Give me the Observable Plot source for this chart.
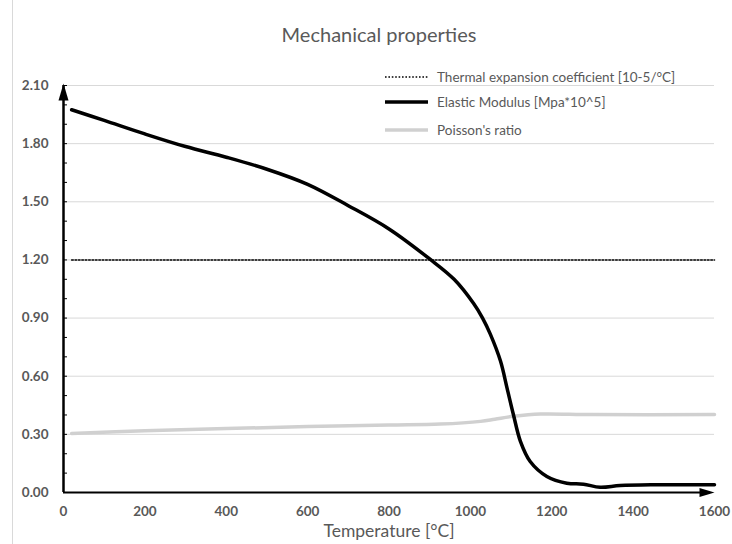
<!DOCTYPE html>
<html>
<head>
<meta charset="utf-8">
<script src="https://cdn.jsdelivr.net/npm/d3@7"></script>
<script src="https://cdn.jsdelivr.net/npm/@observablehq/plot@0.6"></script>
<style>
  html, body { margin: 0; padding: 0; background: #fff; }
  #wrap { position: relative; width: 732px; height: 544px; overflow: hidden; font-family: Lato, "Open Sans", sans-serif; }
  #border { position: absolute; left: 12px; top: 0; width: 1px; height: 544px; background: #d9d9d9; }
  #legend { position: absolute; left: 385px; top: 0; font-size: 13.5px; color: #595959; }
  .item { position: absolute; left: 0; white-space: nowrap; display: flex; align-items: center; }
  .item svg { margin-right: 9px; }
</style>
</head>
<body>
<div id="wrap">
  <div id="border"></div>
  <div id="chart"></div>
  <div id="legend"></div>
</div>
<script>
const title = "Mechanical properties";
const xLabel = "Temperature [°C]";
const seriesNames = ["Thermal expansion coefficient [10-5/°C]", "Elastic Modulus [Mpa*10^5]", "Poisson's ratio"];

const thermalT = [20, 1600];
const thermalV = [1.2, 1.2];

const elasticT = [20, 100, 200, 300, 400, 500, 600, 700, 800, 900, 960, 1008, 1030, 1049, 1074, 1090, 1106, 1123, 1147, 1188, 1237, 1278, 1319, 1368, 1450, 1600];
const elasticV = [1.975, 1.92, 1.85, 1.785, 1.73, 1.668, 1.59, 1.48, 1.36, 1.205, 1.10, 0.975, 0.90, 0.817, 0.678, 0.54, 0.40, 0.264, 0.16, 0.083, 0.048, 0.043, 0.027, 0.036, 0.04, 0.04];

const poissonT = [20, 200, 400, 600, 800, 926, 1025, 1060, 1106, 1172, 1300, 1600];
const poissonV = [0.305, 0.318, 0.33, 0.34, 0.348, 0.353, 0.367, 0.378, 0.393, 0.405, 0.402, 0.402];

const xTicks = [0, 200, 400, 600, 800, 1000, 1200, 1400, 1600];
const yTicks = [0, 0.3, 0.6, 0.9, 1.2, 1.5, 1.8, 2.1];
const yMinorTicks = [0, 0.1, 0.2, 0.3, 0.4, 0.5, 0.6, 0.7, 0.8, 0.9, 1.0, 1.1, 1.2, 1.3, 1.4, 1.5, 1.6, 1.7, 1.8, 1.9, 2.0, 2.1];

const colors = ["#000000", "#000000", "#d0d0d0"];

const thermal = thermalT.map((t, i) => ({t, v: thermalV[i]}));
const elastic = elasticT.map((t, i) => ({t, v: elasticV[i]}));
const poisson = poissonT.map((t, i) => ({t, v: poissonV[i]}));

// arrowhead symbols (tip pointing up)
const arrowUp = { draw(ctx) { ctx.moveTo(0, -2); ctx.lineTo(5, 15); ctx.lineTo(-5, 15); ctx.closePath(); } };
const arrowRight = { draw(ctx) { ctx.moveTo(0, -1); ctx.lineTo(4.5, 14); ctx.lineTo(-4.5, 14); ctx.closePath(); } };

const grey = "#595959";

const plot = Plot.plot({
  width: 732,
  height: 544,
  marginLeft: 63,
  marginRight: 18,
  marginTop: 85,
  marginBottom: 52,
  style: { fontFamily: "Lato, 'Open Sans', sans-serif", background: "transparent" },
  x: { domain: [0, 1600] },
  y: { domain: [0, 2.1] },
  marks: [
    Plot.gridY(yTicks.filter(d => d > 0), { stroke: "#d9d9d9", strokeOpacity: 1 }),
    Plot.axisY(yTicks, { tickSize: 0, tickPadding: 15, tickFormat: d3.format(".2f"), fontSize: 13.5, fontWeight: "bold", fill: grey, label: null }),
    Plot.axisY(yMinorTicks, { tickSize: -4, text: null, label: null, stroke: "#000" }),
    Plot.axisX(xTicks, { tickSize: 0, tickPadding: 14, tickFormat: d3.format("d"), fontSize: 13.5, fontWeight: "bold", fill: grey, label: null }),
    Plot.text([xLabel], { frameAnchor: "bottom", lineAnchor: "middle", dy: 39, fontSize: 17.5, fill: grey }),
    Plot.text([title], { frameAnchor: "top", lineAnchor: "middle", dx: -10, dy: -50, fontSize: 20, fill: grey }),
    Plot.line(thermal, { x: "t", y: "v", stroke: colors[0], strokeWidth: 1.6, strokeDasharray: "1.6,1.8" }),
    Plot.line(poisson, { x: "t", y: "v", stroke: colors[2], strokeWidth: 3.5, curve: "catmull-rom" }),
    Plot.line(elastic, { x: "t", y: "v", stroke: colors[1], strokeWidth: 3.5, curve: "catmull-rom" }),
    Plot.ruleX([0], { y1: 0, y2: 2.1, stroke: "#000", strokeWidth: 2.5 }),
    Plot.ruleY([0], { x1: 0, x2: 1590, stroke: "#000", strokeWidth: 2 }),
    Plot.dot([0], { x: 0, y: 2.1, symbol: arrowUp, fill: "#000", stroke: null, r: 5 }),
    Plot.dot([0], { x: 1600, y: 0, symbol: arrowRight, fill: "#000", stroke: null, r: 5, rotate: 90, dx: -1 })
  ]
});
document.getElementById("chart").appendChild(plot);

// legend
const legend = document.getElementById("legend");
const legendY = [77, 102, 130];
const legendStyle = [
  { w: 1.6, dash: "1.6,1.8" },
  { w: 3.5, dash: null },
  { w: 3.5, dash: null }
];
seriesNames.forEach((name, i) => {
  const item = document.createElement("div");
  item.className = "item";
  item.style.top = (legendY[i] - 9) + "px";
  item.style.height = "18px";
  const s = d3.create("svg").attr("width", 43).attr("height", 8);
  s.append("line").attr("x1", 0).attr("x2", 43).attr("y1", 4).attr("y2", 4)
    .attr("stroke", colors[i]).attr("stroke-width", legendStyle[i].w)
    .attr("stroke-dasharray", legendStyle[i].dash);
  item.appendChild(s.node());
  const span = document.createElement("span");
  span.textContent = name;
  item.appendChild(span);
  legend.appendChild(item);
});
</script>
</body>
</html>
